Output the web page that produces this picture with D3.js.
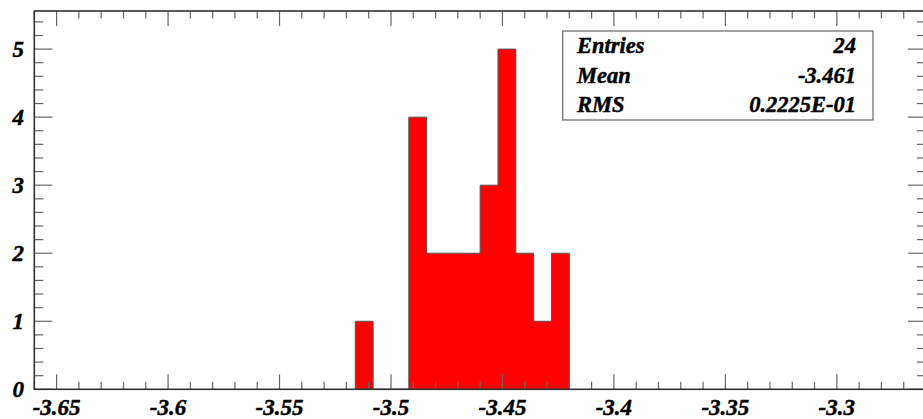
<!DOCTYPE html>
<html>
<head>
<meta charset="utf-8">
<script src="https://cdn.jsdelivr.net/npm/d3@7"></script>
<style>
  html, body { margin: 0; padding: 0; background: #ffffff; }
  svg { display: block; }
  text { font-family: "Liberation Serif", "Times New Roman", serif; font-weight: bold; font-style: italic; fill: #000; stroke: #000; stroke-width: 0.45px; }
</style>
</head>
<body>
<svg id="chart" width="923" height="419"></svg>
<script>
// ---- data ----
const binLowEdges = [-3.516, -3.508, -3.500, -3.492, -3.484, -3.476, -3.468, -3.460, -3.452, -3.444, -3.436, -3.428];
const binCounts   = [1, 0, 0, 4, 2, 2, 2, 3, 5, 2, 1, 2];
const binWidth = 0.008;
const xDomain = [-3.66, -3.26];
const yDomain = [0, 5.56];
const xTickLabels = ["-3.65", "-3.6", "-3.55", "-3.5", "-3.45", "-3.4", "-3.35", "-3.3"];
const yTickLabels = ["0", "1", "2", "3", "4", "5"];
const statNames  = ["Entries", "Mean", "RMS"];
const statValues = ["24", "-3.461", "0.2225E-01"];

// ---- layout ----
const svg = d3.select("#chart");
const L = 34.3, R = 926, T = 11, B = 389.3;
const x = d3.scaleLinear().domain(xDomain).range([L, R]);
const y = d3.scaleLinear().domain(yDomain).range([B, T]);

// histogram as a step outline
const pts = [];
pts.push([x(binLowEdges[0]), y(0)]);
binLowEdges.forEach((lo, i) => {
  pts.push([x(lo), y(binCounts[i])]);
  pts.push([x(lo + binWidth), y(binCounts[i])]);
});
pts.push([x(binLowEdges[binLowEdges.length - 1] + binWidth), y(0)]);
svg.append("path")
  .attr("d", d3.line()(pts) + "Z")
  .attr("fill", "#ff0000")
  .attr("stroke", "#555")
  .attr("stroke-width", 1);

// ---- axes ----
const majorX = xTickLabels.map(Number);
const minorX = d3.range(-366, -325).map(v => v / 100).filter(v => !majorX.some(m => Math.abs(m - v) < 1e-9));
const majorY = yTickLabels.map(Number);
const minorY = d3.range(0, 28).map(v => v / 5).filter(v => Math.abs(v - Math.round(v)) > 1e-9);

const tickG = svg.append("g").attr("stroke", "#666").attr("stroke-width", 1.2);
majorX.forEach(v => {
  tickG.append("line").attr("x1", x(v)).attr("x2", x(v)).attr("y1", B).attr("y2", B - 15);
  tickG.append("line").attr("x1", x(v)).attr("x2", x(v)).attr("y1", T).attr("y2", T + 15);
});
minorX.forEach(v => {
  tickG.append("line").attr("x1", x(v)).attr("x2", x(v)).attr("y1", B).attr("y2", B - 7.5);
  tickG.append("line").attr("x1", x(v)).attr("x2", x(v)).attr("y1", T).attr("y2", T + 7.5);
});
majorY.forEach(v => {
  tickG.append("line").attr("x1", L).attr("x2", L + 18).attr("y1", y(v)).attr("y2", y(v));
  tickG.append("line").attr("x1", R).attr("x2", R - 18).attr("y1", y(v)).attr("y2", y(v));
});
minorY.forEach(v => {
  tickG.append("line").attr("x1", L).attr("x2", L + 9).attr("y1", y(v)).attr("y2", y(v));
  tickG.append("line").attr("x1", R).attr("x2", R - 9).attr("y1", y(v)).attr("y2", y(v));
});

// frame
svg.append("rect")
  .attr("x", L).attr("y", T).attr("width", R - L).attr("height", B - T)
  .attr("fill", "none").attr("stroke", "#333").attr("stroke-width", 1.6);

// tick labels
svg.append("g").selectAll("text").data(xTickLabels).join("text")
  .attr("x", d => x(+d)).attr("y", 415)
  .attr("text-anchor", "middle")
  .attr("font-size", 23)
  .text(d => d);
svg.append("g").selectAll("text").data(yTickLabels).join("text")
  .attr("x", 24).attr("y", d => y(+d) + 7.5)
  .attr("text-anchor", "end")
  .attr("font-size", 23)
  .text(d => d);

// stats box
const box = svg.append("g");
box.append("rect")
  .attr("x", 562.7).attr("y", 31).attr("width", 310.3).attr("height", 89)
  .attr("fill", "#fff").attr("stroke", "#666").attr("stroke-width", 1.2);
statNames.forEach((n, i) => {
  box.append("text").attr("x", 577).attr("y", 53 + i * 29.7).attr("font-size", 22.5).text(n);
  box.append("text").attr("x", 856).attr("y", 53 + i * 29.7).attr("font-size", 22.5)
    .attr("text-anchor", "end").text(statValues[i]);
});
</script>
</body>
</html>
